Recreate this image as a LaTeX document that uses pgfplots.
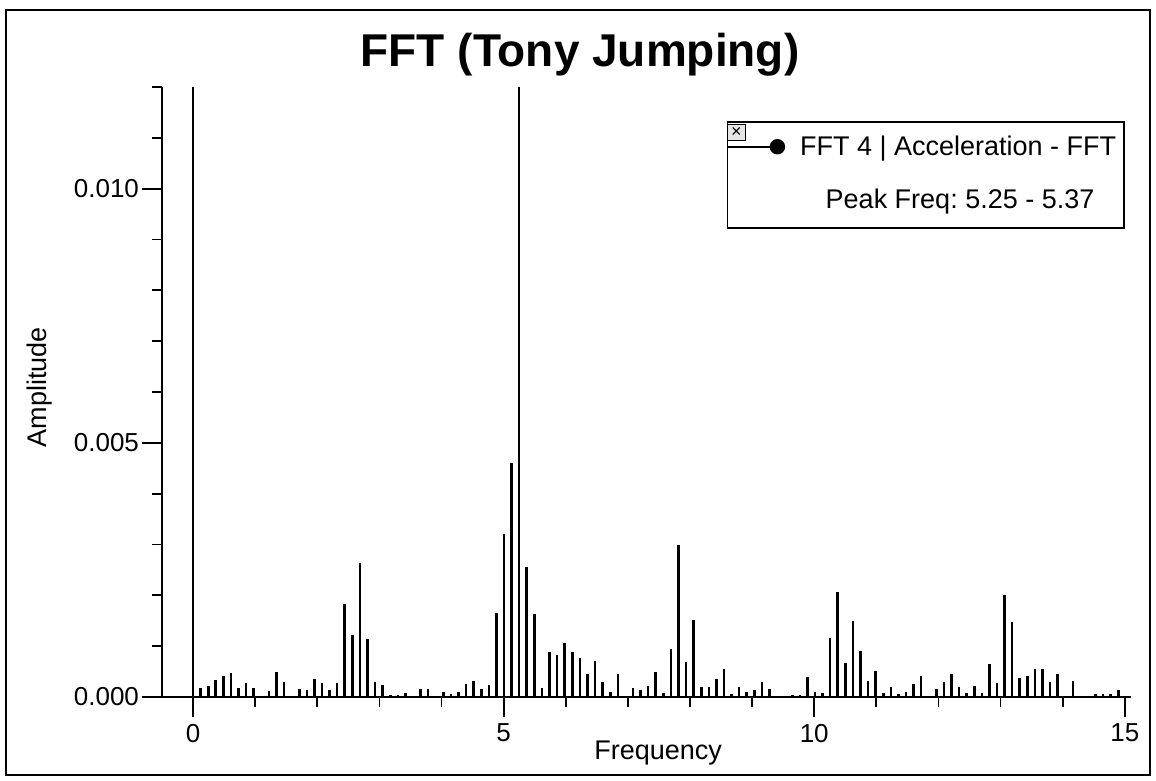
\documentclass[border=0pt]{standalone}
\usepackage{pgfplots}
\pgfplotsset{compat=1.18}
\usepackage{fontspec}
\setmainfont{Liberation Sans}
\frenchspacing
\pgfplotstableread{
x y
0.000 0.01200
0.122 0.00018
0.244 0.00021
0.366 0.00034
0.488 0.00041
0.611 0.00047
0.733 0.00018
0.855 0.00028
0.977 0.00018
1.099 0.00002
1.221 0.00012
1.343 0.00049
1.465 0.00029
1.587 0.00002
1.709 0.00016
1.832 0.00013
1.954 0.00036
2.076 0.00027
2.198 0.00014
2.320 0.00027
2.442 0.00182
2.564 0.00122
2.686 0.00264
2.808 0.00115
2.930 0.00030
3.053 0.00023
3.175 0.00003
3.297 0.00003
3.419 0.00008
3.541 0.00001
3.663 0.00015
3.785 0.00015
3.907 0.00001
4.029 0.00009
4.151 0.00005
4.274 0.00009
4.396 0.00025
4.518 0.00032
4.640 0.00016
4.762 0.00023
4.884 0.00166
5.006 0.00321
5.128 0.00461
5.250 0.01200
5.372 0.00256
5.495 0.00164
5.617 0.00017
5.739 0.00089
5.861 0.00082
5.983 0.00106
6.105 0.00089
6.227 0.00077
6.349 0.00045
6.471 0.00071
6.593 0.00029
6.716 0.00010
6.838 0.00045
6.960 0.00001
7.082 0.00018
7.204 0.00014
7.326 0.00021
7.448 0.00050
7.570 0.00008
7.692 0.00095
7.814 0.00299
7.937 0.00069
8.059 0.00151
8.181 0.00019
8.303 0.00019
8.425 0.00035
8.547 0.00055
8.669 0.00006
8.791 0.00020
8.913 0.00009
9.035 0.00013
9.158 0.00029
9.280 0.00015
9.402 0.00001
9.524 0.00001
9.646 0.00004
9.768 0.00004
9.890 0.00040
10.012 0.00010
10.134 0.00008
10.256 0.00116
10.379 0.00206
10.501 0.00067
10.623 0.00150
10.745 0.00090
10.867 0.00031
10.989 0.00051
11.111 0.00008
11.233 0.00020
11.355 0.00005
11.477 0.00010
11.600 0.00025
11.722 0.00041
11.844 0.00001
11.966 0.00016
12.088 0.00029
12.210 0.00045
12.332 0.00019
12.454 0.00008
12.576 0.00021
12.698 0.00008
12.821 0.00064
12.943 0.00028
13.065 0.00200
13.187 0.00148
13.309 0.00038
13.431 0.00041
13.553 0.00055
13.675 0.00055
13.797 0.00029
13.919 0.00045
14.042 0.00001
14.164 0.00032
14.286 0.00001
14.408 0.00001
14.530 0.00005
14.652 0.00006
14.774 0.00005
14.896 0.00013
15.018 0.00001
}\fftdata
\begin{document}
\begin{tikzpicture}
\path[use as bounding box] (-81pt,-42pt) rectangle (497pt,348.5pt);
\draw[line width=0.9pt] (-78pt,-39pt) rectangle (494pt,343.5pt);
\begin{axis}[
  scale only axis, width=484.5pt, height=305pt,
  xmin=-0.5, xmax=15.1, ymin=0, ymax=0.012,
  axis x line=bottom, axis y line=left,
  axis line style={-, line width=0.9pt},
  every inner x axis line/.append style={-},
  every inner y axis line/.append style={-},
  every outer x axis line/.append style={-},
  every outer y axis line/.append style={-},
  tick align=outside, major tick length=10pt, minor tick length=5pt,
  every tick/.style={line width=0.9pt, black},
  xtick={0,5,10,15}, xticklabels={0,5,10,15},
  minor xtick={1,2,3,4,6,7,8,9,11,12,13,14},
  ytick={0,0.005,0.01}, yticklabels={0.000,0.005,0.010},
  minor ytick={0.001,0.002,0.003,0.004,0.006,0.007,0.008,0.009,0.011,0.012},
  scaled y ticks=false, scaled x ticks=false,
  /pgf/number format/assume math mode=true,
  ticklabel style={font=\fontsize{13}{15}\selectfont},
  yticklabel style={xshift=2pt},
  xlabel={Frequency}, ylabel={Amplitude},
  label style={font=\fontsize{13.5}{16}\selectfont},
  xlabel style={at={(axis description cs:0.512,0)}, anchor=base, yshift=-31pt},
  ylabel style={at={(axis description cs:-0.1259,0.508)}, anchor=center},
  legend style={name=leg, at={(axis description cs:0.583,0.944)}, anchor=north west,
    draw=black, line width=0.7pt, inner xsep=0pt, inner ysep=7pt, row sep=14pt,
    font=\fontsize{13.5}{16}\selectfont,
    nodes={inner sep=0pt, text height=10pt, text depth=2.5pt}},
  legend cell align=left,
]
\addplot[ycomb, black, line width=1.3pt,
  legend image code/.code={\draw[black, line width=0.8pt] (0pt,0.8pt) -- (24.5pt,0.8pt); \fill[black] (24.5pt,0.8pt) circle (3.2pt);}]
  table[x=x, y=y] {\fftdata};
\addlegendentry{\hspace*{7.5pt}FFT 4 | Acceleration - FFT\hspace*{4pt}}
\addlegendimage{empty legend}
\addlegendentry{\hspace*{20.3pt}Peak Freq: 5.25 - 5.37}
\end{axis}
\node[draw=black, line width=0.5pt, fill=gray!20, minimum width=9pt, minimum height=8pt, inner sep=0pt, anchor=north west, font=\fontsize{9}{9}\selectfont] at ([yshift=-1.5pt]leg.north west) {×};
\node[anchor=base, font=\fontsize{23}{28}\selectfont\bfseries] at (209pt,315pt) {FFT (Tony Jumping)};
\end{tikzpicture}
\end{document}
